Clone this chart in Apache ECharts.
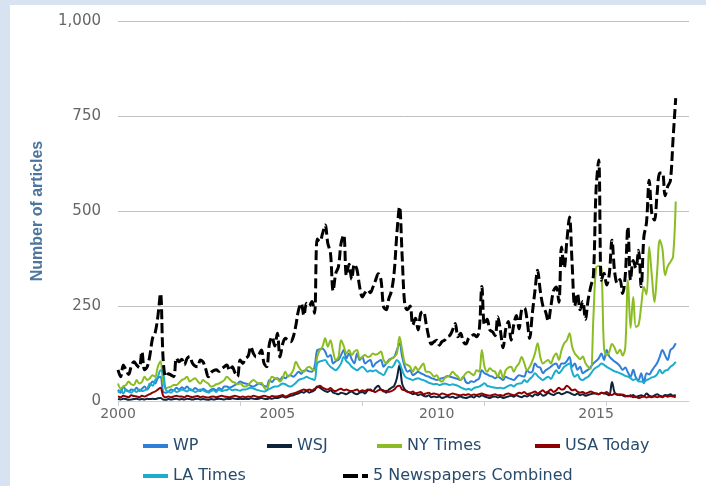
<!DOCTYPE html>
<html>
<head>
<meta charset="utf-8">
<title>Number of articles</title>
<script src="https://cdn.jsdelivr.net/npm/echarts@6/dist/echarts.min.js"></script>
<style>
  html, body { margin: 0; padding: 0; background: #d8e3f1; }
  #panel { position: absolute; left: 10px; top: 5px; width: 696px; height: 481px; background: #fff; }
  #chart { width: 696px; height: 481px; }
</style>
</head>
<body>
<div id="panel"><div id="chart"></div></div>
<script>
// monthly counts, Jan 2000 .. Jul 2017
var wp = [
  30, 22, 38, 28, 25, 30, 29, 35, 26, 32, 38, 30,
  40, 51, 46, 60, 64, 24, 22, 25, 30, 28, 35, 30,
  36, 32, 38, 30, 28, 34, 30, 26, 32, 28, 25, 30,
  32, 28, 34, 30, 38, 38, 35, 38, 42, 46, 51, 48,
  46, 44, 40, 38, 42, 46, 44, 40, 38, 55, 50, 58,
  60, 55, 64, 60, 66, 68, 64, 70, 77, 72, 80, 81,
  78, 77, 90, 134, 136, 138, 130, 116, 121, 99, 105, 108,
  121, 134, 112, 125, 110, 99, 125, 108, 116, 99, 104, 108,
  90, 99, 104, 108, 90, 99, 108, 112, 116, 134, 152, 116,
  90, 77, 81, 68, 72, 77, 73, 70, 66, 64, 60, 58,
  55, 58, 60, 62, 66, 64, 62, 60, 58, 55, 64, 50,
  47, 52, 50, 55, 60, 81, 73, 70, 66, 64, 60, 64,
  60, 55, 64, 60, 58, 55, 62, 68, 66, 64, 81, 75,
  77, 99, 90, 88, 73, 81, 85, 90, 96, 99, 86, 99,
  99, 105, 116, 90, 99, 82, 90, 73, 78, 82, 90, 99,
  105, 112, 125, 108, 134, 117, 110, 104, 99, 92, 82, 88,
  75, 64, 82, 62, 55, 73, 47, 73, 70, 80, 90, 100,
  117, 134, 120, 108, 134, 140, 152
];
var wsj = [
  5, 4, 6, 5, 3, 4, 5, 6, 4, 5, 4, 6,
  5, 6, 5, 7, 8, 4, 3, 5, 4, 5, 6, 4,
  5, 4, 6, 5, 4, 5, 6, 4, 5, 4, 3, 5,
  4, 5, 6, 5, 4, 6, 5, 7, 6, 5, 6, 5,
  6, 5, 7, 6, 5, 6, 8, 6, 5, 7, 6, 8,
  8, 10, 12, 9, 11, 14, 15, 18, 20, 24, 22, 26,
  22, 25, 28, 38, 35, 30, 26, 24, 28, 22, 20, 18,
  22, 20, 18, 22, 25, 20, 18, 22, 24, 20, 28, 30,
  26, 35, 40, 30, 28, 22, 30, 35, 40, 60, 95, 45,
  30, 25, 22, 18, 20, 15, 18, 14, 12, 15, 10, 12,
  10, 12, 8, 10, 12, 9, 11, 8, 10, 12, 9, 8,
  10, 12, 9, 14, 11, 15, 12, 10, 8, 11, 12, 9,
  11, 8, 10, 12, 14, 11, 15, 12, 10, 14, 12, 16,
  12, 18, 15, 20, 14, 16, 22, 18, 16, 20, 22, 18,
  20, 24, 22, 18, 16, 20, 15, 18, 14, 16, 18, 20,
  20, 18, 22, 20, 18, 15, 50, 22, 16, 18, 15, 12,
  14, 12, 16, 10, 13, 15, 12, 20, 14, 12, 15, 18,
  14, 12, 16, 15, 18, 14, 16
];
var nyTimes = [
  46, 33, 38, 42, 51, 44, 42, 55, 46, 50, 64, 55,
  60, 68, 64, 90, 104, 50, 33, 36, 38, 42, 42, 48,
  55, 58, 64, 51, 56, 60, 52, 46, 55, 50, 46, 38,
  40, 44, 46, 50, 55, 64, 58, 51, 48, 44, 46, 40,
  38, 42, 50, 55, 50, 46, 48, 36, 29, 50, 64, 60,
  58, 51, 60, 77, 64, 70, 81, 103, 90, 80, 77, 86,
  90, 84, 81, 116, 134, 143, 165, 143, 160, 130, 108, 116,
  160, 145, 125, 134, 121, 130, 134, 112, 116, 121, 116, 118,
  125, 122, 125, 130, 108, 99, 105, 112, 116, 125, 169, 134,
  99, 95, 90, 77, 90, 81, 90, 99, 77, 77, 72, 64,
  68, 55, 51, 60, 64, 68, 77, 70, 64, 55, 64, 73,
  77, 72, 68, 81, 77, 134, 90, 77, 86, 80, 77, 64,
  81, 60, 81, 88, 90, 77, 90, 99, 116, 99, 81, 90,
  105, 125, 152, 116, 99, 104, 108, 99, 116, 125, 108, 134,
  152, 160, 178, 143, 125, 117, 110, 117, 100, 90, 85, 220,
  350, 355, 350, 140, 120, 130, 150, 140, 125, 135, 120, 140,
  318, 192, 274, 195, 200, 250, 300, 280, 405, 330, 260, 340,
  424, 400, 331, 355, 366, 380, 525
];
var usaToday = [
  12, 10, 14, 12, 10, 15, 13, 12, 10, 14, 12, 15,
  18, 22, 25, 30, 35, 14, 10, 12, 10, 12, 14, 12,
  12, 10, 14, 12, 10, 12, 13, 10, 12, 10, 9, 11,
  12, 10, 12, 14, 12, 11, 10, 12, 14, 12, 10, 12,
  10, 12, 11, 14, 12, 10, 12, 14, 12, 10, 13, 12,
  12, 14, 16, 12, 14, 18, 20, 22, 25, 28, 30, 28,
  30, 28, 32, 36, 40, 35, 32, 30, 34, 28, 26, 30,
  32, 28, 30, 27, 26, 28, 30, 25, 28, 26, 30, 28,
  26, 24, 28, 30, 25, 27, 24, 26, 30, 38, 40, 30,
  28, 24, 22, 25, 20, 22, 24, 18, 20, 22, 18, 20,
  18, 16, 20, 18, 15, 17, 20, 18, 16, 15, 17, 16,
  18, 15, 17, 16, 18, 20, 17, 15, 14, 16, 18, 15,
  16, 14, 18, 20, 17, 15, 18, 22, 20, 24, 18, 20,
  22, 25, 20, 24, 28, 22, 25, 30, 24, 28, 35, 30,
  32, 40, 35, 28, 30, 25, 22, 24, 20, 22, 25, 22,
  20, 18, 22, 20, 24, 18, 16, 20, 18, 15, 17, 14,
  12, 15, 10, 12, 8, 10, 12, 9, 11, 10, 12, 10,
  12, 10, 14, 11, 13, 12, 10
];
var laTimes = [
  22, 28, 20, 30, 25, 22, 28, 24, 30, 26, 28, 32,
  46, 40, 55, 64, 81, 73, 29, 25, 22, 28, 24, 26,
  30, 28, 25, 32, 28, 24, 26, 30, 28, 25, 22, 26,
  28, 24, 30, 26, 28, 29, 32, 28, 30, 29, 27, 30,
  30, 33, 35, 33, 30, 28, 26, 25, 28, 32, 35, 38,
  38, 42, 46, 44, 40, 38, 42, 48, 55, 58, 60, 64,
  60, 58, 55, 99, 104, 106, 108, 98, 90, 85, 81, 88,
  99, 116, 105, 99, 90, 85, 81, 86, 90, 84, 77, 80,
  78, 81, 76, 72, 68, 80, 90, 88, 96, 108, 100, 81,
  65, 60, 58, 55, 58, 60, 57, 55, 52, 48, 46, 44,
  45, 42, 44, 46, 44, 42, 44, 42, 40, 36, 33, 30,
  32, 29, 34, 36, 38, 42, 47, 40, 38, 36, 35, 34,
  35, 33, 36, 40, 42, 38, 44, 46, 47, 55, 50, 58,
  64, 73, 66, 60, 55, 60, 64, 58, 70, 81, 73, 80,
  90, 95, 99, 77, 64, 70, 58, 55, 60, 64, 72, 82,
  88, 92, 99, 95, 90, 86, 82, 78, 76, 73, 70, 66,
  64, 60, 55, 58, 52, 51, 50, 55, 58, 62, 64, 70,
  82, 73, 80, 82, 90, 95, 103
];
var combined = [
  82, 64, 95, 82, 70, 92, 103, 95, 88, 130, 82, 90,
  120, 165, 180, 222, 283, 110, 64, 72, 68, 64, 113, 103,
  110, 95, 112, 117, 100, 92, 90, 108, 103, 85, 64, 75,
  80, 82, 78, 85, 90, 95, 80, 90, 75, 64, 108, 99,
  112, 118, 143, 125, 116, 122, 134, 99, 90, 150, 169, 145,
  178, 116, 150, 165, 160, 156, 169, 200, 240, 257, 225, 257,
  250, 262, 231, 426, 420, 440, 463, 415, 389, 290, 336, 353,
  415, 437, 330, 360, 320, 360, 345, 300, 274, 285, 292, 285,
  300, 318, 335, 320, 248, 240, 270, 290, 340, 440, 511, 380,
  252, 240, 250, 200, 218, 187, 231, 235, 204, 169, 150, 156,
  160, 147, 156, 160, 169, 173, 187, 204, 169, 178, 156, 150,
  165, 170, 175, 169, 185, 301, 200, 215, 187, 182, 172, 222,
  185, 140, 190, 209, 160, 200, 225, 190, 240, 245, 215, 165,
  230, 290, 344, 290, 250, 235, 210, 250, 290, 300, 260, 405,
  350, 420, 484, 360, 250, 283, 240, 262, 215, 266, 301, 330,
  555, 634, 318, 336, 305, 335, 423, 340, 310, 320, 283, 330,
  458, 318, 370, 350, 397, 301, 432, 470, 581, 493, 476, 546,
  600, 600, 540, 565, 580, 690, 797
];
var yTicks = [0, 250, 500, 750, 1000];

var months = [];
for (var y = 2000; y <= 2017; y++) {
  for (var m = 1; m <= 12; m++) {
    months.push(y + "-" + (m < 10 ? "0" + m : m));
  }
}

var legendFont = { color: "#274b6d", fontSize: 16, fontFamily: "DejaVu Sans" };
function legendAt(name, left, top, icon) {
  return {
    data: [name],
    left: left,
    top: top,
    icon: icon || "rect",
    itemWidth: 25,
    itemHeight: 4,
    selectedMode: false,
    textStyle: legendFont
  };
}
var dashIcon = "path://M0,0H15V4H0Z M19,0H25V4H19Z";

function line(name, data, color, width, dashed) {
  return {
    name: name,
    type: "line",
    data: data,
    smooth: 0.35,
    symbol: "none",
    lineStyle: { color: color, width: width, type: dashed ? [10, 4] : "solid" },
    itemStyle: { color: color }
  };
}

var myChart = echarts.init(document.getElementById("chart"));
var option = {
  animation: false,
  grid: { left: 108, right: 17, top: 16, bottom: 85 },
  legend: [
    legendAt("WP", 128, 428),
    legendAt("WSJ", 252, 428),
    legendAt("NY Times", 362, 428),
    legendAt("USA Today", 520, 428),
    legendAt("LA Times", 128, 458),
    legendAt("5 Newspapers Combined", 328, 458, dashIcon)
  ],
  xAxis: {
    type: "category",
    data: months,
    boundaryGap: false,
    axisLine: { lineStyle: { color: "#c0d0e0", width: 1 } },
    axisTick: {
      length: 5,
      interval: function (index) { return index % 46 === 0; },
      lineStyle: { color: "#c0d0e0" }
    },
    axisLabel: {
      interval: function (index) { return index % 60 === 0; },
      formatter: function (v) { return v.slice(0, 4); },
      color: "#666",
      fontSize: 14,
      fontFamily: "DejaVu Sans",
      margin: 6
    },
    splitLine: { show: false }
  },
  yAxis: {
    type: "value",
    min: yTicks[0],
    max: yTicks[yTicks.length - 1],
    interval: 250,
    name: "Number of articles",
    nameLocation: "middle",
    nameGap: 72,
    nameTextStyle: { color: "#4d759e", fontSize: 16, fontWeight: "bold", fontFamily: "Liberation Sans" },
    axisLine: { show: false },
    axisTick: { show: false },
    axisLabel: {
      color: "#666",
      fontSize: 15,
      fontFamily: "DejaVu Sans",
      margin: 17,
      formatter: function (v) { return v.toLocaleString("en-US"); }
    },
    splitLine: { lineStyle: { color: "#c0c0c0", width: 1 } }
  },
  series: [
    line("WP", wp, "#2f7ed8", 2),
    line("WSJ", wsj, "#0d233a", 2),
    line("NY Times", nyTimes, "#8bbc21", 2),
    line("USA Today", usaToday, "#910000", 2),
    line("LA Times", laTimes, "#1aadce", 2),
    line("5 Newspapers Combined", combined, "#000000", 3, true)
  ]
};
myChart.setOption(option);
</script>
</body>
</html>
